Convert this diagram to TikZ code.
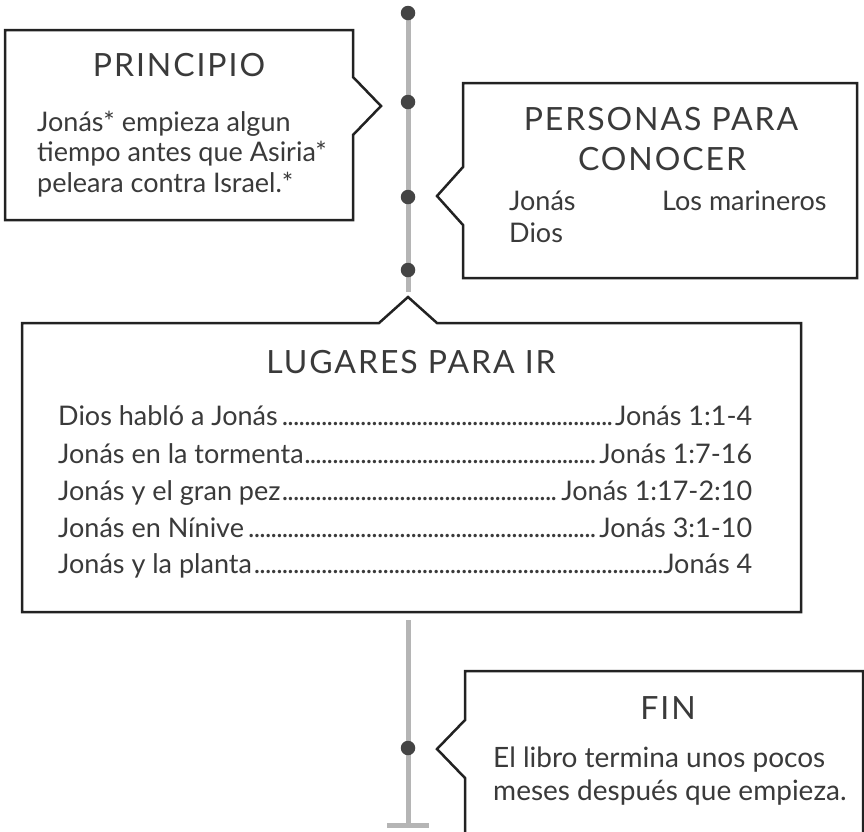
\documentclass[tikz,border=0pt]{standalone}
\usepackage{fontspec}
\setmainfont{Lato}
\newfontfamily\titlefont[LetterSpace=6]{Lato}
\definecolor{txt}{HTML}{3A3A3A}
\definecolor{boxline}{HTML}{222222}
\definecolor{tline}{HTML}{B5B5B5}
\definecolor{tdot}{HTML}{444444}
\newcommand{\dotlead}{\leaders\hbox to 5.6pt{\hss.\hss}\hfill}
\tikzset{
  callout/.style={draw=boxline, line width=2.5pt, fill=white, line join=miter},
  ttl/.style={inner sep=0pt, text=txt, font=\titlefont\fontsize{32}{38}\selectfont, anchor=base},
  body/.style={inner sep=0pt, text=txt, font=\fontsize{27}{32}\selectfont, anchor=base west},
  finbody/.style={body, font=\fontsize{28}{33}\selectfont},
  row/.style={inner sep=0pt, text=txt, font=\fontsize{27}{32}\selectfont, anchor=base west},
  tl/.style={draw=tline, line width=5pt},
  tdotst/.style={circle, fill=tdot, inner sep=0pt, minimum size=14.5pt}
}
\begin{document}
\begin{tikzpicture}[x=1pt,y=-1pt]
\useasboundingbox (0,0) rectangle (864,831);
\clip (0,0) rectangle (864,831);
% timeline
\coordinate (t0) at (408,13);
\coordinate (t1) at (408,292);
\coordinate (t2) at (408,620);
\coordinate (t3) at (408,825);
\coordinate (bl) at (387,825);
\coordinate (br) at (429,825);
\draw[tl] (t0) -- (t1);
\draw[tl] (t2) -- (t3);
\draw[tl] (bl) -- (br);
\node[tdotst] (d1) at (408,13) {};
\node[tdotst] (d2) at (408,102) {};
\node[tdotst] (d3) at (408,197) {};
\node[tdotst] (d4) at (408,270) {};
\node[tdotst] (d5) at (408,748) {};
% boxes
\draw[callout] (5,30) -- (353,30) -- (353,77) -- (381,106) -- (353,135) -- (353,220) -- (5,220) -- cycle;
\draw[callout] (463,83) -- (857,83) -- (857,278) -- (463,278) -- (463,225) -- (437,196) -- (463,167) -- cycle;
\draw[callout] (22,323) -- (379,323) -- (408,297) -- (437,323) -- (801,323) -- (801,612) -- (22,612) -- cycle;
\draw[callout] (465,671) -- (863,671) -- (863,850) -- (465,850) -- (465,778) -- (437,749) -- (465,720) -- cycle;
% PRINCIPIO
\node[ttl] (p0) at (179,76) {PRINCIPIO};
\node[body] (p1) at (37,131) {Jonás* empieza algun};
\node[body] (p2) at (37,161.5) {tiempo antes que Asiria*};
\node[body] (p3) at (37,192) {peleara contra Israel.*};
% PERSONAS
\node[ttl] (q0) at (661,130) {PERSONAS PARA};
\node[ttl] (q1) at (662,170) {CONOCER};
\node[body] (q2) at (509,210) {Jonás};
\node[body] (q3) at (662,210) {Los marineros};
\node[body] (q4) at (509,242) {Dios};
% LUGARES
\node[ttl] (l0) at (411,373) {LUGARES PARA IR};
\node[row] (l1) at (58,425) {\makebox[694pt][s]{Dios habló a Jonás\dotlead Jonás 1:1-4}};
\node[row] (l2) at (58,463) {\makebox[694pt][s]{Jonás en la tormenta\dotlead Jonás 1:7-16}};
\node[row] (l3) at (58,500) {\makebox[694pt][s]{Jonás y el gran pez\dotlead Jonás 1:17-2:10}};
\node[row] (l4) at (58,537) {\makebox[694pt][s]{Jonás en Nínive\dotlead Jonás 3:1-10}};
\node[row] (l5) at (58,573) {\makebox[694pt][s]{Jonás y la planta\dotlead Jonás 4}};
% FIN
\node[ttl] (f0) at (668,719) {FIN};
\node[finbody] (f1) at (493,767) {El libro termina unos pocos};
\node[finbody] (f2) at (493,800) {meses después que empieza.};
\end{tikzpicture}
\end{document}
